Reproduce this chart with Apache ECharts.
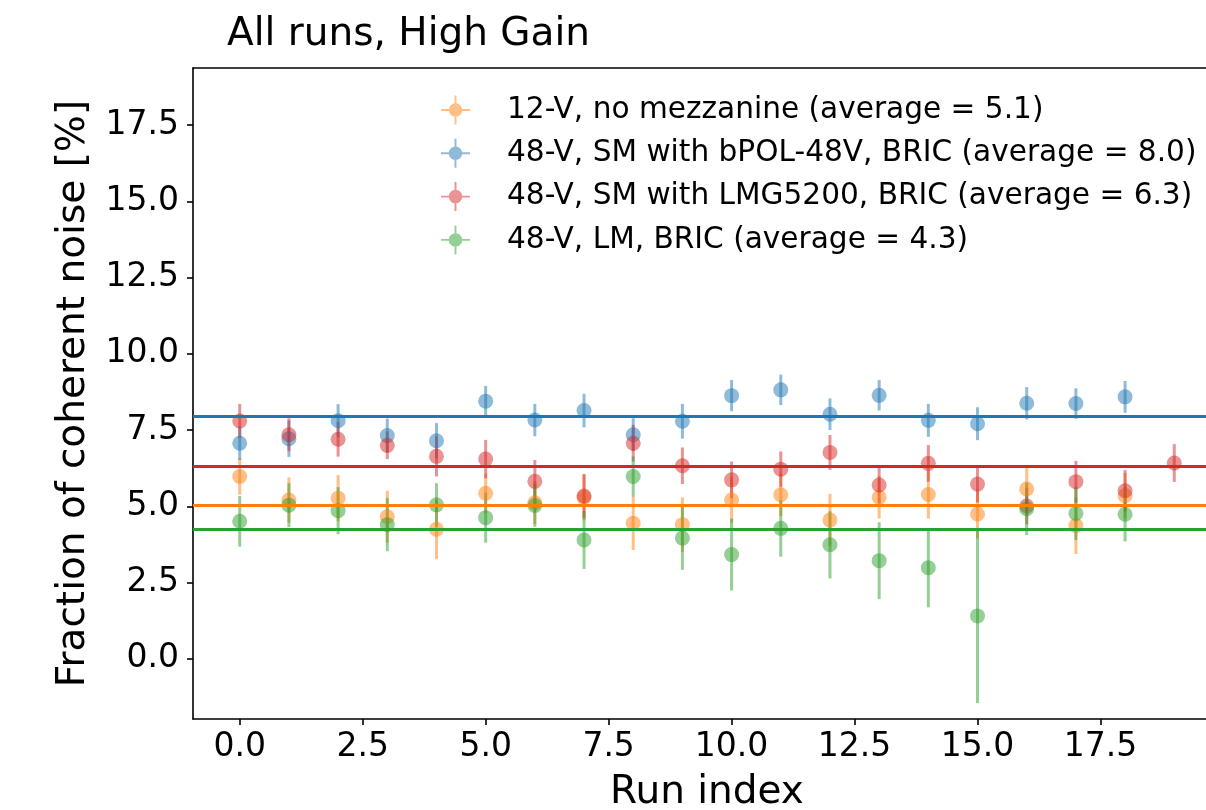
<!DOCTYPE html>
<html>
<head>
<meta charset="UTF-8">
<title>All runs, High Gain</title>
<script src="https://cdn.jsdelivr.net/npm/echarts@6/dist/echarts.min.js"></script>
<style>
  html, body { margin: 0; padding: 0; background: #fff; }
  #main { width: 1206px; height: 810px; }
</style>
</head>
<body>
<div id="main"></div>
<script type="text/javascript">
// run index of every point
var runs = [0, 1, 2, 3, 4, 5, 6, 7, 8, 9, 10, 11, 12, 13, 14, 15, 16, 17, 18, 19];

// 12-V, no mezzanine
var orangeVal = [5.98, 5.21, 5.27, 4.66, 4.25, 5.43, 5.12, 5.29, 4.45, 4.40, 5.21, 5.38, 4.55, 5.30, 5.39, 4.75, 5.57, 4.37, 5.35];
var orangeErr = [0.60, 0.74, 0.76, 0.85, 0.98, 0.65, 0.70, 0.75, 0.88, 0.89, 0.75, 0.70, 0.86, 0.70, 0.79, 0.80, 0.71, 0.93, 0.75];
// 48-V, SM with bPOL-48V
var blueVal = [7.07, 7.22, 7.81, 7.32, 7.15, 8.45, 7.83, 8.14, 7.35, 7.79, 8.63, 8.82, 8.02, 8.64, 7.82, 7.71, 8.38, 8.37, 8.59];
var blueErr = [0.55, 0.60, 0.54, 0.56, 0.58, 0.50, 0.53, 0.55, 0.54, 0.57, 0.51, 0.50, 0.52, 0.50, 0.54, 0.54, 0.53, 0.50, 0.52];
// 48-V, SM with LMG5200
var redVal = [7.80, 7.35, 7.20, 7.00, 6.64, 6.55, 5.82, 5.34, 7.07, 6.33, 5.87, 6.22, 6.77, 5.70, 6.41, 5.73, 5.01, 5.81, 5.51, 6.42];
var redErr = [0.56, 0.54, 0.57, 0.45, 0.66, 0.63, 0.70, 0.72, 0.60, 0.60, 0.60, 0.58, 0.57, 0.60, 0.60, 0.60, 0.60, 0.68, 0.68, 0.62];
// 48-V, LM
var greenVal = [4.51, 5.04, 4.86, 4.40, 5.05, 4.63, 5.03, 3.90, 5.98, 3.96, 3.42, 4.28, 3.74, 3.22, 2.99, 1.41, 4.92, 4.77, 4.74];
var greenErr = [0.83, 0.72, 0.77, 0.87, 0.71, 0.82, 0.70, 0.95, 0.66, 1.04, 1.18, 0.93, 1.10, 1.26, 1.30, 2.86, 0.86, 0.87, 0.89];

var names = [
  '12-V, no mezzanine (average = 5.1)',
  '48-V, SM with bPOL-48V, BRIC (average = 8.0)',
  '48-V, SM with LMG5200, BRIC (average = 6.3)',
  '48-V, LM, BRIC (average = 4.3)'
];
var averages = [5.05, 7.95, 6.33, 4.26];
var colors = ['#ff7f0e', '#1f77b4', '#d62728', '#2ca02c'];

var xTicks = [0, 2.5, 5, 7.5, 10, 12.5, 15, 17.5];
var yTicks = [0, 2.5, 5, 7.5, 10, 12.5, 15, 17.5];

var values = [orangeVal, blueVal, redVal, greenVal];
var errors = [orangeErr, blueErr, redErr, greenErr];

var font = 'DejaVu Sans';
// cross with a dot, like the errorbar legend handle
var legendIcon = 'path://M0,14L30,14L30,16L0,16Z M14,0L16,0L16,30L14,30Z M8,15A7,7 0 1,1 22,15A7,7 0 1,1 8,15Z';

var series = [];
for (var s = 0; s < values.length; s++) {
  var rows = [];
  for (var i = 0; i < values[s].length; i++) {
    rows.push([runs[i], values[s][i], errors[s][i]]);
  }
  // error bars and the average line
  series.push({
    name: names[s],
    type: 'custom',
    z: 2,
    data: rows,
    renderItem: (function (c) {
      return function (params, api) {
        var x = api.value(0), y = api.value(1), e = api.value(2);
        var p1 = api.coord([x, y - e]);
        var p2 = api.coord([x, y + e]);
        return {
          type: 'line',
          shape: { x1: p1[0], y1: p1[1], x2: p2[0], y2: p2[1] },
          style: { stroke: c, lineWidth: 3, opacity: 0.5 }
        };
      };
    })(colors[s]),
    markLine: {
      silent: true,
      symbol: 'none',
      animation: false,
      label: { show: false },
      lineStyle: { color: colors[s], width: 3.2, type: 'solid', opacity: 1 },
      data: [{ yAxis: averages[s] }]
    }
  });
  // markers
  series.push({
    name: names[s],
    type: 'scatter',
    z: 3,
    symbol: 'circle',
    symbolSize: 15,
    itemStyle: { color: colors[s], opacity: 0.5 },
    data: rows
  });
}

var myChart = echarts.init(document.getElementById('main'));
var option = {
  animation: false,
  backgroundColor: '#fff',
  title: {
    text: 'All runs, High Gain',
    left: 222,
    top: 10,
    textStyle: { fontFamily: font, fontSize: 39, fontWeight: 'normal', color: '#000' }
  },
  legend: {
    orient: 'vertical',
    left: 436,
    top: 90,
    itemWidth: 29,
    itemHeight: 29,
    itemGap: 13.3,
    selectedMode: false,
    itemStyle: { opacity: 0.5 },
    textStyle: { fontFamily: font, fontSize: 29.6, lineHeight: 29, color: '#000', padding: [0, 0, 0, 32] },
    data: names.map(function (n, k) {
      return { name: n, icon: legendIcon, itemStyle: { color: colors[k], opacity: 0.5 } };
    })
  },
  grid: { left: 193, right: -15, top: 68, bottom: 91, containLabel: false, outerBoundsMode: 'none' },
  xAxis: [{
    type: 'value',
    min: -0.95,
    max: 19.95,
    name: 'Run index',
    nameLocation: 'middle',
    nameGap: 54,
    nameTextStyle: { fontFamily: font, fontSize: 39, color: '#000' },
    axisLine: { onZero: false, lineStyle: { color: '#000', width: 1.6 } },
    axisTick: { show: true, length: 6, lineStyle: { color: '#000', width: 1.6 }, customValues: xTicks },
    axisLabel: {
      fontFamily: font, fontSize: 33, color: '#000', margin: 12,
      customValues: xTicks,
      formatter: function (v) { return v.toFixed(1); }
    },
    splitLine: { show: false }
  }, {
    type: 'value',
    position: 'top',
    min: -0.95,
    max: 19.95,
    axisLine: { show: true, onZero: false, lineStyle: { color: '#000', width: 1.6 } },
    axisTick: { show: false },
    axisLabel: { show: false },
    splitLine: { show: false }
  }],
  yAxis: {
    type: 'value',
    min: -1.97,
    max: 19.37,
    name: 'Fraction of coherent noise [%]',
    nameLocation: 'middle',
    nameGap: 100,
    nameTextStyle: { fontFamily: font, fontSize: 39, color: '#000' },
    axisLine: { show: true, onZero: false, lineStyle: { color: '#000', width: 1.6 } },
    axisTick: { show: true, length: 6, lineStyle: { color: '#000', width: 1.6 }, customValues: yTicks },
    axisLabel: {
      fontFamily: font, fontSize: 33, color: '#000', margin: 14,
      customValues: yTicks,
      formatter: function (v) { return v.toFixed(1); }
    },
    splitLine: { show: false }
  },
  series: series
};
myChart.setOption(option);
</script>
</body>
</html>
